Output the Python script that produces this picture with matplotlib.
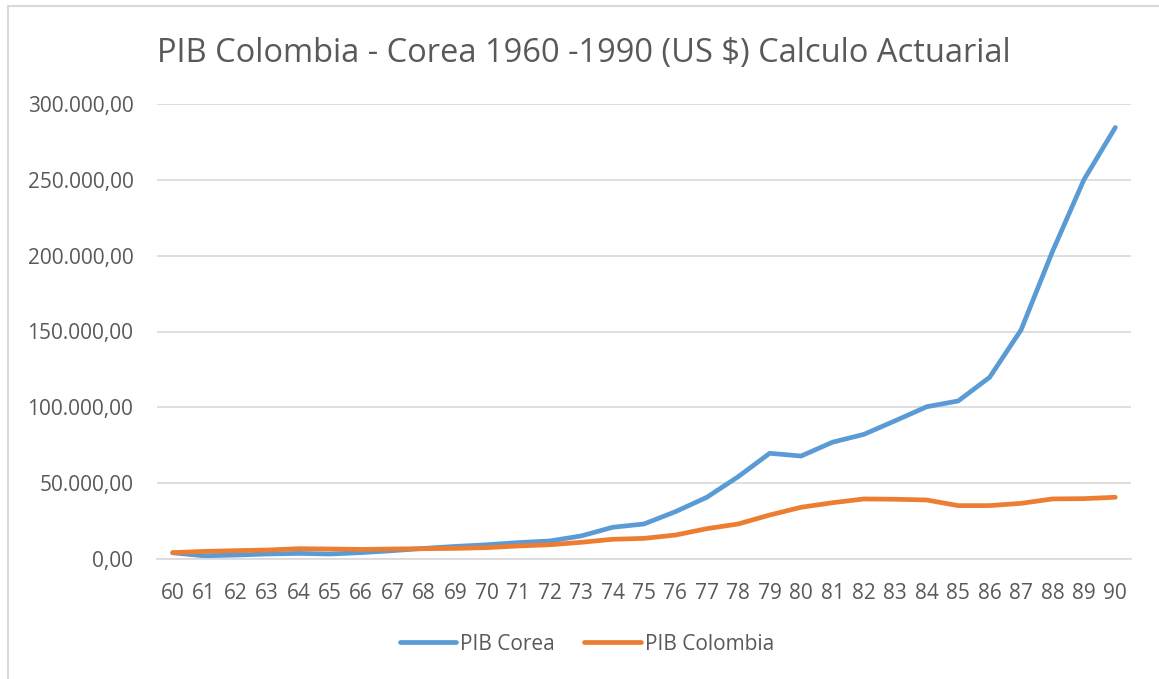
import matplotlib.pyplot as plt
from matplotlib.lines import Line2D
from matplotlib.ticker import FuncFormatter

# Datos (PIB en US $)
anios = ['60', '61', '62', '63', '64', '65', '66', '67', '68', '69', '70',
         '71', '72', '73', '74', '75', '76', '77', '78', '79', '80',
         '81', '82', '83', '84', '85', '86', '87', '88', '89', '90']

pib_corea = [4100, 2100, 2600, 3300, 3700, 3300, 4200, 5500, 7000, 8300, 9400,
             10800, 11900, 15200, 20900, 23100, 31200, 40700, 54300, 69700, 67900,
             77000, 82200, 91200, 100400, 104200, 119800, 151000, 202700, 250000, 284500]

pib_colombia = [4200, 5000, 5500, 5900, 6800, 6600, 6300, 6600, 6800, 7000, 7500,
                8600, 9400, 11000, 13000, 13600, 15800, 20000, 23100, 29000, 34100,
                37100, 39600, 39400, 38900, 35200, 35200, 36700, 39600, 39800, 40700]

plt.rcParams['font.family'] = ['Open Sans', 'DejaVu Sans']

fig = plt.figure(figsize=(11.59, 6.79), dpi=100)
ax = fig.add_axes([157 / 1159, 1 - 559 / 679, (1131 - 157) / 1159, (559 - 104) / 679])

x = range(len(anios))
ax.plot(x, pib_corea, color='#5b9bd5', linewidth=3.4, solid_capstyle='round',
        solid_joinstyle='round', label='PIB Corea')
ax.plot(x, pib_colombia, color='#ed7d31', linewidth=3.4, solid_capstyle='round',
        solid_joinstyle='round', label='PIB Colombia')

ax.set_xlim(-0.5, len(anios) - 0.5)
ax.set_ylim(0, 300000)
ax.set_yticks(range(0, 300001, 50000))
ax.yaxis.set_major_formatter(FuncFormatter(
    lambda v, p: '{:,.2f}'.format(v).replace(',', 'X').replace('.', ',').replace('X', '.')))
ax.set_xticks(list(x))
ax.set_xticklabels(anios)

ax.grid(axis='y', color='#d9d9d9', linewidth=1.2)
ax.set_axisbelow(True)
for s in ['top', 'right', 'left']:
    ax.spines[s].set_visible(False)
ax.spines['bottom'].set_color('#d9d9d9')
ax.spines['bottom'].set_linewidth(1.2)
ax.tick_params(length=0, colors='#595959', labelsize=15)
ax.tick_params(axis='x', pad=17)
ax.tick_params(axis='y', pad=17)

fig.text(584 / 1159, 1 - 62 / 679, 'PIB Colombia - Corea 1960 -1990 (US $) Calculo Actuarial',
         ha='center', va='baseline', fontsize=23.5, color='#595959')

fig.legend(loc='center', bbox_to_anchor=(587 / 1159, 1 - 644 / 679), ncol=2,
           frameon=False, fontsize=15, handlelength=2.7, handletextpad=0.2,
           columnspacing=1.4, labelcolor='#595959')

# marco del grafico
fig.add_artist(Line2D([8 / 1159, 8 / 1159], [0, 1 - 6 / 679], color='#d9d9d9', linewidth=1.5))
fig.add_artist(Line2D([8 / 1159, 1], [1 - 6 / 679, 1 - 6 / 679], color='#d9d9d9', linewidth=1.5))

fig.savefig('out.png', dpi=100)
